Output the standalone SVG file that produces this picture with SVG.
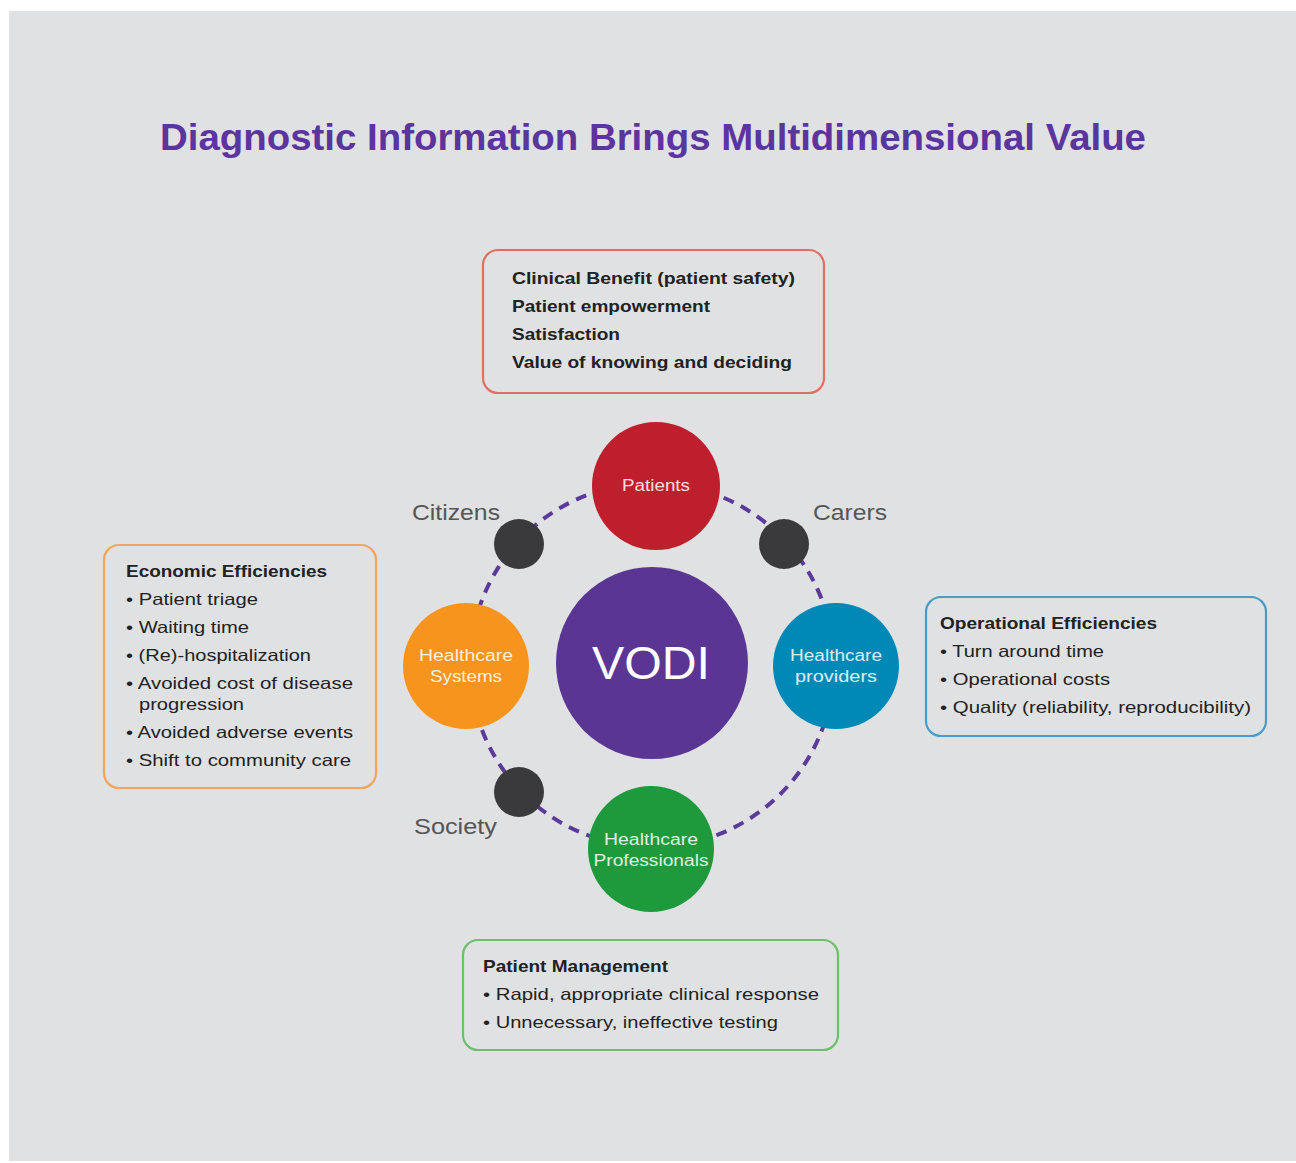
<svg xmlns="http://www.w3.org/2000/svg" width="1296" height="1163" viewBox="0 0 1296 1163">
<style>
.box{fill:none;stroke-width:2.2}
.bt{font-family:"Liberation Sans",Arial,sans-serif;font-size:16.5px;font-weight:bold;fill:#222}
.t{font-family:"Liberation Sans",Arial,sans-serif;font-size:16.5px;fill:#222}
.lab{font-family:"Liberation Sans",Arial,sans-serif;font-size:22px;fill:#555}
.ct{font-family:"Liberation Sans",Arial,sans-serif;font-size:16px;fill:#fff;text-anchor:middle;opacity:0.85}
</style>
<rect x="0" y="0" width="1296" height="1163" fill="#ffffff"/>
<rect x="9" y="11" width="1287" height="1150" fill="#e0e1e3"/>
<text x="653" y="150" text-anchor="middle" font-family="Liberation Sans,Arial,sans-serif" font-weight="bold" font-size="37" fill="#5b34a0" textLength="986" lengthAdjust="spacingAndGlyphs">Diagnostic Information Brings Multidimensional Value</text>
<g id="connectors">
<circle cx="652" cy="665" r="182" fill="none" stroke="#5b3a9a" stroke-width="4" stroke-dasharray="11 8"/>
</g>
<g id="vodi"><circle cx="652" cy="663" r="96" fill="#5b3594"/><text x="651" y="679" text-anchor="middle" font-family="Liberation Sans,Arial,sans-serif" font-size="47" fill="#fff" textLength="118" lengthAdjust="spacingAndGlyphs">VODI</text></g>
<g id="patients"><circle cx="656" cy="486" r="64" fill="#bf1e2d"/><text class="ct" x="656" y="491" textLength="68" lengthAdjust="spacingAndGlyphs">Patients</text></g>
<g id="healthcare-systems"><circle cx="466" cy="666" r="63" fill="#f7941d"/><text class="ct" x="466" y="661" textLength="94" lengthAdjust="spacingAndGlyphs">Healthcare</text><text class="ct" x="466" y="682" textLength="72" lengthAdjust="spacingAndGlyphs">Systems</text></g>
<g id="healthcare-providers"><circle cx="836" cy="666" r="63" fill="#0089b7"/><text class="ct" x="836" y="661" textLength="92" lengthAdjust="spacingAndGlyphs">Healthcare</text><text class="ct" x="836" y="682" textLength="82" lengthAdjust="spacingAndGlyphs">providers</text></g>
<g id="healthcare-professionals"><circle cx="651" cy="849" r="63" fill="#1e9a3c"/><text class="ct" x="651" y="845" textLength="94" lengthAdjust="spacingAndGlyphs">Healthcare</text><text class="ct" x="651" y="866" textLength="115" lengthAdjust="spacingAndGlyphs">Professionals</text></g>
<g id="citizens"><circle cx="519" cy="544" r="25" fill="#3a3a3c"/><text class="lab" x="412" y="520" textLength="88" lengthAdjust="spacingAndGlyphs">Citizens</text></g>
<g id="carers"><circle cx="784" cy="544" r="25" fill="#3a3a3c"/><text class="lab" x="813" y="520" textLength="74" lengthAdjust="spacingAndGlyphs">Carers</text></g>
<g id="society"><circle cx="519" cy="792" r="25" fill="#3a3a3c"/><text class="lab" x="414" y="834" textLength="83" lengthAdjust="spacingAndGlyphs">Society</text></g>
<g id="box-top">
<rect class="box" x="483" y="250" width="341" height="143" rx="15" stroke="#e07060"/>
<text class="bt" x="512" y="284" textLength="283" lengthAdjust="spacingAndGlyphs">Clinical Benefit (patient safety)</text>
<text class="bt" x="512" y="312" textLength="198" lengthAdjust="spacingAndGlyphs">Patient empowerment</text>
<text class="bt" x="512" y="340" textLength="108" lengthAdjust="spacingAndGlyphs">Satisfaction</text>
<text class="bt" x="512" y="368" textLength="280" lengthAdjust="spacingAndGlyphs">Value of knowing and deciding</text>
</g>
<g id="box-left">
<rect class="box" x="104" y="545" width="272" height="243" rx="15" stroke="#f5a55a"/>
<text class="bt" x="126" y="577" textLength="201" lengthAdjust="spacingAndGlyphs">Economic Efficiencies</text>
<text class="t" x="126" y="605" textLength="132" lengthAdjust="spacingAndGlyphs">• Patient triage</text>
<text class="t" x="126" y="633" textLength="123" lengthAdjust="spacingAndGlyphs">• Waiting time</text>
<text class="t" x="126" y="661" textLength="185" lengthAdjust="spacingAndGlyphs">• (Re)-hospitalization</text>
<text class="t" x="126" y="689" textLength="227" lengthAdjust="spacingAndGlyphs">• Avoided cost of disease</text>
<text class="t" x="139" y="710" textLength="105" lengthAdjust="spacingAndGlyphs">progression</text>
<text class="t" x="126" y="738" textLength="227" lengthAdjust="spacingAndGlyphs">• Avoided adverse events</text>
<text class="t" x="126" y="766" textLength="225" lengthAdjust="spacingAndGlyphs">• Shift to community care</text>
</g>
<g id="box-right">
<rect class="box" x="926" y="597" width="340" height="139" rx="15" stroke="#4a9cc8"/>
<text class="bt" x="940" y="629" textLength="217" lengthAdjust="spacingAndGlyphs">Operational Efficiencies</text>
<text class="t" x="940" y="657" textLength="164" lengthAdjust="spacingAndGlyphs">• Turn around time</text>
<text class="t" x="940" y="685" textLength="170" lengthAdjust="spacingAndGlyphs">• Operational costs</text>
<text class="t" x="940" y="713" textLength="311" lengthAdjust="spacingAndGlyphs">• Quality (reliability, reproducibility)</text>
</g>
<g id="box-bottom">
<rect class="box" x="463" y="940" width="375" height="110" rx="15" stroke="#6cbf6c"/>
<text class="bt" x="483" y="972" textLength="185" lengthAdjust="spacingAndGlyphs">Patient Management</text>
<text class="t" x="483" y="1000" textLength="336" lengthAdjust="spacingAndGlyphs">• Rapid, appropriate clinical response</text>
<text class="t" x="483" y="1028" textLength="295" lengthAdjust="spacingAndGlyphs">• Unnecessary, ineffective testing</text>
</g>
</svg>
